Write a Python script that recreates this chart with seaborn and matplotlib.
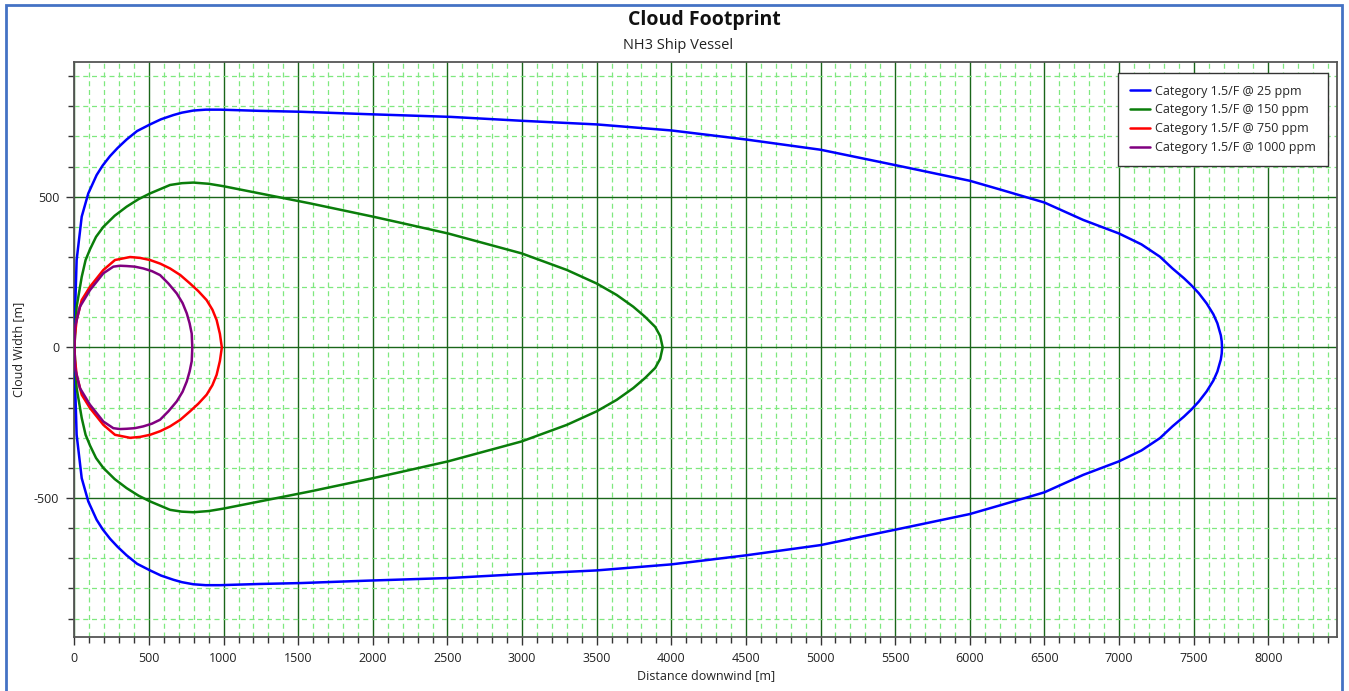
import matplotlib
matplotlib.use("Agg")
import matplotlib.pyplot as plt
from matplotlib.patches import Rectangle
from matplotlib.ticker import MultipleLocator, FuncFormatter
import pandas as pd
import seaborn as sns

# Half-width of each cloud footprint [m] against downwind distance [m]
blue_x = [0, 4, 15, 49, 93, 149, 190, 239, 290, 350, 420, 507, 580, 663, 720, 797,
          880, 976, 1243, 1517, 1964, 2522, 3000, 3500, 4000, 4500, 5000, 5500,
          6000, 6203, 6499, 6760, 7000, 7150, 7274, 7358, 7434, 7483, 7534, 7587,
          7632, 7659, 7682, 7688, 7690]
blue_w = [0, 112, 290, 434, 511, 572, 604, 635, 662, 690, 718, 740, 757, 771, 779,
          786, 789, 789, 785, 782, 774, 765, 752, 740, 720, 690, 656, 605,
          553, 524, 481, 423, 378, 342, 301, 262, 230, 207, 180, 146,
          110, 80, 40, 20, 0]

green_x = [0, 15, 49, 75, 105, 145, 194, 270, 350, 430, 507, 641, 720, 797, 900, 998,
           1243, 1579, 2000, 2182, 2505, 2997, 3300, 3500, 3634, 3745, 3823, 3892,
           3925, 3942]
green_w = [0, 135, 234, 290, 326, 367, 400, 437, 467, 492, 511, 539, 545, 547, 543,
           535, 511, 478, 434, 414, 378, 312, 257, 212, 174, 135, 102, 68, 38, 0]

red_x = [0, 4, 15, 49, 104, 194, 272, 373, 440, 507, 575, 641, 710, 775, 830, 886,
         925, 953, 975, 988]
red_w = [0, 40, 91, 157, 201, 257, 290, 300, 297, 290, 278, 262, 240, 212, 187, 157,
         125, 91, 45, 0]

purple_x = [0, 4, 37, 104, 194, 261, 305, 350, 405, 462, 520, 574, 630, 686, 725,
            753, 772, 786, 790]
purple_w = [0, 68, 135, 190, 246, 268, 271, 270, 268, 262, 253, 240, 212, 179, 147,
            113, 80, 46, 0]

labels = ["Category 1.5/F @ 25 ppm", "Category 1.5/F @ 150 ppm",
          "Category 1.5/F @ 750 ppm", "Category 1.5/F @ 1000 ppm"]
colors = ["#0000FF", "#0A7D0A", "#FF0000", "#800080"]

x_ticks = list(range(0, 8001, 500))
y_ticks = [-500, 0, 500]

# Closed outline: upper edge outward, lower edge back to the source
rows = []
for lab, xs, ws in zip(labels, [blue_x, green_x, red_x, purple_x],
                       [blue_w, green_w, red_w, purple_w]):
    outline = list(zip(xs, ws)) + [(x, -w) for x, w in zip(xs[::-1], ws[::-1])]
    for i, (x, y) in enumerate(outline):
        rows.append({"Scenario": lab, "Distance": x, "Width": y, "order": i})
df = pd.DataFrame(rows)

sns.set_style("white")
plt.rcParams["font.family"] = ["Open Sans", "DejaVu Sans"]

fig = plt.figure(figsize=(13.49, 6.91), dpi=100)
ax = fig.add_axes([0.05515, 0.07858, 0.9359, 0.8312])

sns.lineplot(data=df, x="Distance", y="Width", hue="Scenario", sort=False,
             estimator=None, palette=dict(zip(labels, colors)),
             linewidth=1.8, ax=ax, zorder=5)

ax.set_xlim(0, 8460)
ax.set_ylim(-960, 946)

ax.xaxis.set_minor_locator(MultipleLocator(100))
ax.yaxis.set_minor_locator(MultipleLocator(100))
ax.set_xticks(x_ticks)
ax.set_yticks(y_ticks)
ax.yaxis.set_major_formatter(FuncFormatter(lambda v, p: f"{int(v)}"))
ax.xaxis.set_major_formatter(FuncFormatter(lambda v, p: f"{int(v)}"))

ax.grid(which="minor", color="#7FE87F", linestyle=(0, (4, 3)), linewidth=0.9, zorder=0)
ax.grid(which="major", color="#1A661A", linestyle="-", linewidth=1.0, zorder=1)
ax.set_axisbelow(True)

ax.tick_params(which="major", direction="out", length=6, width=1, color="#333333",
               labelsize=9, labelcolor="#222222", pad=5, bottom=True, left=True)
ax.tick_params(which="minor", direction="out", length=4, width=1, color="#333333",
               bottom=True, left=True)

for s in ax.spines.values():
    s.set_color("#555555")
    s.set_linewidth(1.3)

ax.set_xlabel("Distance downwind [m]", fontsize=9, color="#222222", labelpad=3)
ax.set_ylabel("Cloud Width [m]", fontsize=9, color="#222222", labelpad=6)

fig.text(0.5225, 0.971, "Cloud Footprint", ha="center", va="center",
         fontsize=14, fontweight="bold", color="#111111")
fig.text(0.5026, 0.934, "NH3 Ship Vessel", ha="center", va="center",
         fontsize=10.5, color="#222222")

sns.move_legend(ax, "upper right", bbox_to_anchor=(0.9929, 0.9819), title=None,
                frameon=True, fancybox=False, framealpha=1, edgecolor="#333333",
                fontsize=9, handlelength=1.6, handletextpad=0.4,
                borderaxespad=0, labelspacing=0.47, borderpad=0.95)
ax.get_legend().get_frame().set_linewidth(1.0)

# Outer panel border
fig.patches.append(Rectangle((0.0046, -0.02), 0.9903, 1.0128, transform=fig.transFigure,
                             fill=False, edgecolor="#4472C4", linewidth=2.0))

fig.savefig("out.png", dpi=100)
